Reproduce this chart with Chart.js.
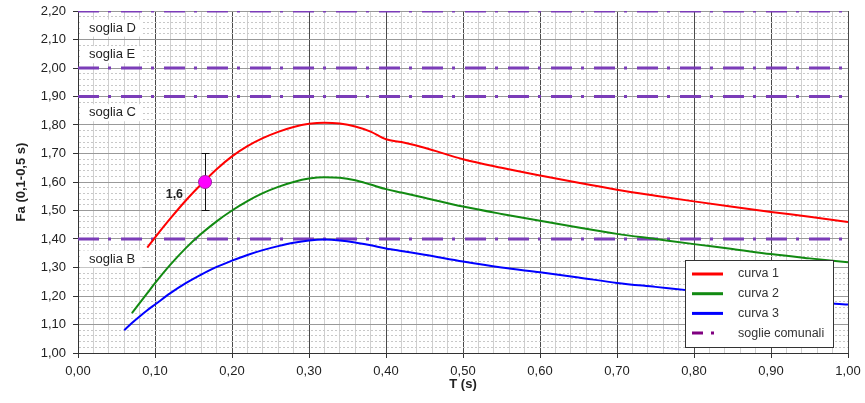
<!DOCTYPE html>
<html>
<head>
<meta charset="utf-8">
<script src="https://cdn.jsdelivr.net/npm/chart.js@4.4.0/dist/chart.umd.min.js"></script>
<style>
  body { margin: 0; background: #fff; }
  #wrap { width: 865px; height: 403px; position: relative; }
</style>
</head>
<body>
<div id="wrap"><canvas id="chart"></canvas></div>
<script>
// periodi T (s) e curve Fa
const periods = [0.06, 0.07, 0.08, 0.09, 0.10, 0.12, 0.14, 0.16, 0.18, 0.20, 0.22, 0.24, 0.26, 0.28, 0.30, 0.32, 0.34, 0.36, 0.38, 0.40, 0.42, 0.45, 0.50, 0.55, 0.60, 0.65, 0.70, 0.75, 0.80, 0.85, 0.90, 0.95, 1.00];
const curva1 = [null, null, null, 1.37, 1.405, 1.472, 1.535, 1.592, 1.645, 1.69, 1.726, 1.754, 1.776, 1.793, 1.804, 1.808, 1.805, 1.795, 1.777, 1.75, 1.74, 1.72, 1.68, 1.65, 1.623, 1.597, 1.573, 1.552, 1.532, 1.513, 1.495, 1.478, 1.46];
const curva2 = [null, 1.14, 1.175, 1.21, 1.245, 1.31, 1.368, 1.418, 1.462, 1.50, 1.533, 1.561, 1.583, 1.60, 1.612, 1.617, 1.615, 1.606, 1.591, 1.575, 1.563, 1.545, 1.514, 1.488, 1.464, 1.44, 1.418, 1.40, 1.382, 1.365, 1.347, 1.332, 1.318];
const curva3 = [1.08, 1.105, 1.128, 1.15, 1.17, 1.21, 1.245, 1.275, 1.302, 1.324, 1.344, 1.361, 1.375, 1.387, 1.395, 1.398, 1.395, 1.388, 1.378, 1.367, 1.358, 1.345, 1.321, 1.30, 1.283, 1.265, 1.246, 1.232, 1.218, 1.205, 1.193, 1.18, 1.17];

// soglie comunali
const soglieValues = [2.20, 2.00, 1.90, 1.40];
const soglieNames = ['soglia D', 'soglia E', 'soglia C', 'soglia B'];
const soglieNameAt = [2.14, 2.047, 1.843, 1.33];

// punto misurato con barra
const puntoT = [0.165];
const puntoFa = [1.60];
const puntoErr = [0.10];
const puntoLabel = ['1,6'];

const FONT = "'Liberation Sans', Arial, sans-serif";
const isMajor = v => Math.abs(v * 10 - Math.round(v * 10)) < 1e-6;
const fmt = v => v.toFixed(2).replace('.', ',');
const toXY = (xs, ys) => xs.map((x, i) => ({ x: x, y: ys[i] }));

const curves = [
    { label: 'curva 1', data: curva1, color: '#ff0000' },
    { label: 'curva 2', data: curva2, color: '#128a12' },
    { label: 'curva 3', data: curva3, color: '#0000ff' }
];

const datasets = curves.map(c => ({
    label: c.label,
    data: toXY(periods, c.data),
    borderColor: c.color,
    borderWidth: 2,
    pointRadius: 0,
    cubicInterpolationMode: 'monotone',
    order: 2
}));

soglieValues.forEach((v, i) => {
    datasets.push({
        label: i === 0 ? 'soglie comunali' : '',
        data: [{ x: 0, y: v }, { x: 1, y: v }],
        borderColor: '#7b3db8',
        borderWidth: 3,
        borderDash: [21, 9, 3, 10],
        pointRadius: 0,
        order: 3
    });
});

datasets.push({
    label: 'punto',
    data: toXY(puntoT, puntoFa),
    showLine: false,
    pointRadius: 6.5,
    pointBackgroundColor: '#ff00ff',
    pointBorderColor: '#a020a0',
    pointBorderWidth: 1,
    order: 0
});

const extras = {
    id: 'extras',
    beforeDatasetsDraw(chart) {
        const { ctx, scales: { x, y } } = chart;
        ctx.save();
        ctx.strokeStyle = '#111';
        ctx.lineWidth = 1;
        puntoT.forEach((t, i) => {
            const px = Math.round(x.getPixelForValue(t)) + 0.5;
            const top = y.getPixelForValue(puntoFa[i] + puntoErr[i]);
            const bot = y.getPixelForValue(puntoFa[i] - puntoErr[i]);
            ctx.beginPath();
            ctx.moveTo(px, top); ctx.lineTo(px, bot);
            ctx.moveTo(px - 4, top); ctx.lineTo(px + 4, top);
            ctx.moveTo(px - 4, bot); ctx.lineTo(px + 4, bot);
            ctx.stroke();
        });
        ctx.restore();
    },
    afterDatasetsDraw(chart) {
        const { ctx, chartArea: a, scales: { x, y } } = chart;
        ctx.save();

        // nomi delle soglie
        ctx.font = '13px ' + FONT;
        ctx.textBaseline = 'middle';
        soglieNames.forEach((name, i) => {
            const py = y.getPixelForValue(soglieNameAt[i]);
            const w = ctx.measureText(name).width;
            ctx.fillStyle = '#fff';
            ctx.fillRect(a.left + 2, py - 8.5, w + 16, 17);
            ctx.fillStyle = '#222';
            ctx.fillText(name, a.left + 11, py);
        });

        // etichetta del punto
        ctx.font = 'bold 12.5px ' + FONT;
        ctx.textAlign = 'right';
        puntoT.forEach((t, i) => {
            ctx.fillStyle = '#222';
            ctx.fillText(puntoLabel[i], x.getPixelForValue(t) - 22, y.getPixelForValue(puntoFa[i]) + 13);
        });

        // legenda
        const items = chart.data.datasets.filter(d => d.label && d.label !== 'punto');
        const lx = a.right - 163, ly = a.bottom - 93;
        ctx.fillStyle = '#fff';
        ctx.fillRect(lx, ly, 148, 87);
        ctx.strokeStyle = '#333';
        ctx.lineWidth = 1;
        ctx.strokeRect(lx + 0.5, ly + 0.5, 148, 87);
        ctx.font = '12.5px ' + FONT;
        ctx.textAlign = 'left';
        items.forEach((d, i) => {
            const ry = ly + 14 + i * 19.7;
            ctx.beginPath();
            if (d.borderDash) {
                ctx.strokeStyle = '#800080';
                ctx.setLineDash([11, 8, 3, 20]);
            } else {
                ctx.strokeStyle = d.borderColor;
                ctx.setLineDash([]);
            }
            ctx.lineWidth = 3;
            ctx.moveTo(lx + 7, ry);
            ctx.lineTo(lx + 38, ry);
            ctx.stroke();
            ctx.setLineDash([]);
            ctx.fillStyle = '#333';
            ctx.fillText(d.label, lx + 53, ry);
        });
        ctx.restore();
    }
};

const gridColor = (major, minor) => ctx => {
    if (!ctx.tick) return minor;
    return isMajor(ctx.tick.value) ? major : minor;
};
const tickColor = ctx => (ctx.tick && isMajor(ctx.tick.value)) ? '#333' : 'rgba(0,0,0,0)';
const gridDash = ctx => (ctx.tick && !isMajor(ctx.tick.value)) ? [2, 2] : [];

new Chart(document.querySelector('#chart').getContext('2d'), {
    type: 'line',
    data: { datasets: datasets },
    options: {
        responsive: true,
        maintainAspectRatio: false,
        animation: false,
        layout: { padding: { top: 11, right: 17, bottom: 0, left: 0 } },
        plugins: { legend: { display: false }, tooltip: { enabled: false } },
        scales: {
            x: {
                type: 'linear',
                min: 0,
                max: 1,
                afterFit: s => {
                    s.height = 50;
                    s.paddingLeft = 0;
                    s.paddingRight = 0;
                },
                ticks: {
                    stepSize: 0.02,
                    autoSkip: false,
                    maxRotation: 0,
                    padding: 6,
                    color: '#222',
                    font: { family: FONT, size: 13 },
                    callback: v => isMajor(v) ? fmt(v) : ''
                },
                grid: { color: gridColor('#4a4a4a', '#d0d0d0'), tickColor: tickColor, tickLength: 5 },
                border: { color: '#333' },
                title: {
                    display: true,
                    text: 'T (s)',
                    color: '#222',
                    font: { family: FONT, size: 13, weight: 'bold' },
                    padding: { top: 0, bottom: 11 }
                }
            },
            y: {
                min: 1,
                max: 2.2,
                afterFit: s => {
                    s.width = 78;
                    s.paddingTop = 0;
                    s.paddingBottom = 0;
                },
                ticks: {
                    stepSize: 0.02,
                    autoSkip: false,
                    padding: 7,
                    color: '#222',
                    font: { family: FONT, size: 13 },
                    callback: v => isMajor(v) ? fmt(v) : ''
                },
                grid: { color: gridColor('#999', '#c8c8c8'), tickColor: tickColor, tickLength: 5 },
                border: { color: '#333', dash: gridDash },
                title: {
                    display: true,
                    text: 'Fa (0,1-0,5 s)',
                    color: '#222',
                    font: { family: FONT, size: 13, weight: 'bold' },
                    padding: { top: 14, bottom: 0 }
                }
            }
        }
    },
    plugins: [extras]
});
</script>
</body>
</html>
